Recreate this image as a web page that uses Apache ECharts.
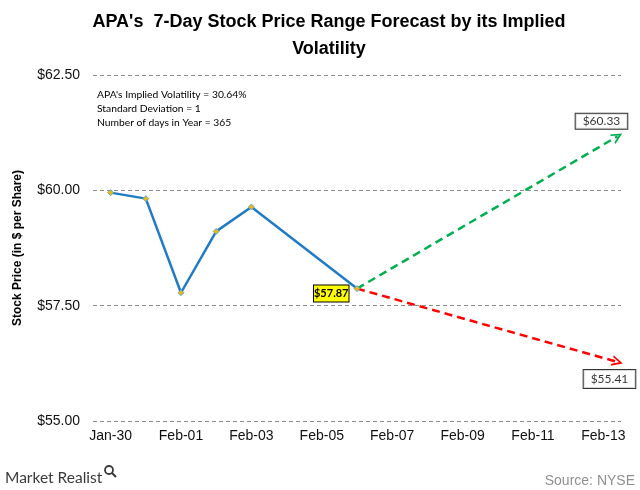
<!DOCTYPE html>
<html>
<head>
<meta charset="utf-8">
<script src="https://cdn.jsdelivr.net/npm/echarts@6/dist/echarts.min.js"></script>
<style>
html,body{margin:0;padding:0;background:#fff;}
#c{width:640px;height:490px;}
</style>
</head>
<body>
<div id="c"></div>
<script>
// ---- data ----
const xTickLabels = ["Jan-30","Feb-01","Feb-03","Feb-05","Feb-07","Feb-09","Feb-11","Feb-13"];
const xTickDays = [0,2,4,6,8,10,12,14];          // days since Jan-30
const histDays = [0,1,2,3,4,7];                   // Jan-30, Jan-31, Feb-01, Feb-02, Feb-03, Feb-06
const histPrices = [59.95,59.82,57.78,59.11,59.64,57.87];
const forecastEndDay = 14.4;
const upperDrawn = 61.17;   // where the green arrow ends on the chart
const lowerDrawn = 56.28;   // where the red arrow ends on the chart
const upperLabel = 60.33;
const lowerLabel = 55.41;
const yTicks = [55, 57.5, 60, 62.5];
const notes = ["APA's Implied Volatility = 30.64%","Standard Deviation = 1","Number of days in Year = 365"];

const lastDay = histDays[histDays.length-1];
const lastPrice = histPrices[histPrices.length-1];
const chevron = 'path://M0,10 L5,0 L10,10 L8.2,10 L5,3.6 L1.8,10 Z';

const chart = echarts.init(document.getElementById('c'), null, {renderer:'canvas'});
const option = {
  backgroundColor:'#fff',
  animation:false,
  title:{
    text:"APA's  7-Day Stock Price Range Forecast by its Implied\nVolatility",
    left:324, top:4, textAlign:'center',
    textStyle:{fontFamily:'Liberation Sans, Arial', fontWeight:'bold', fontSize:18, color:'#000', lineHeight:27}
  },
  grid:{left:93, right:19, top:75, bottom:69, containLabel:false},
  xAxis:{
    type:'value', min:-0.5, max:14.5,
    axisLine:{show:false}, axisTick:{show:false}, splitLine:{show:false},
    axisLabel:{
      customValues:xTickDays,
      formatter:(v)=>{const i=xTickDays.indexOf(v);return i>=0?xTickLabels[i]:'';},
      fontFamily:'Liberation Sans, Arial', fontSize:14, color:'#111', margin:8
    }
  },
  yAxis:{
    type:'value', min:yTicks[0], max:yTicks[yTicks.length-1], interval:2.5,
    name:'Stock Price (in $ per Share)', nameLocation:'middle', nameGap:69,
    nameTextStyle:{fontFamily:'Liberation Sans, Arial', fontWeight:'bold', fontSize:12, color:'#000'},
    axisLine:{show:false}, axisTick:{show:false},
    splitLine:{show:true, lineStyle:{color:'#8c8c8c', width:1, type:[4,3]}},
    axisLabel:{formatter:(v)=>'$'+v.toFixed(2), fontFamily:'Liberation Sans, Arial', fontSize:14, color:'#111', margin:13}
  },
  series:[
    {
      type:'line',
      data:histDays.map((d,i)=>{
        const item={value:[d,histPrices[i]]};
        if(i===histDays.length-1){
          item.label={show:true, position:'left', distance:6, offset:[1,5],
            formatter:()=>'$'+histPrices[i].toFixed(2),
            backgroundColor:'#ffff00', borderColor:'#000', borderWidth:1, padding:[3,0,2,0],
            fontFamily:'Lato', fontWeight:'bold', fontSize:11, color:'#000'};
        }
        return item;
      }),
      lineStyle:{color:'#1f7bc6', width:2.5},
      symbol:'diamond', symbolSize:6, showSymbol:true,
      itemStyle:{color:'#f2b800', borderColor:'#5aa9e0', borderWidth:1},
      z:3
    },
    {
      type:'lines', coordinateSystem:'cartesian2d', polyline:false,
      symbol:['none', chevron], symbolSize:11,
      data:[
        {coords:[[lastDay,lastPrice],[forecastEndDay,upperDrawn]], lineStyle:{color:'#00b050'}},
        {coords:[[lastDay,lastPrice],[forecastEndDay,lowerDrawn]], lineStyle:{color:'#ff0000'}}
      ],
      lineStyle:{width:2.5, type:[8,5], opacity:1},
      z:2
    },
    {
      type:'scatter', symbolSize:0,
      data:[
        {value:[forecastEndDay,upperDrawn], label:{offset:[-16,-15], padding:[2,7,1,7], formatter:()=>'$'+upperLabel.toFixed(2)}},
        {value:[forecastEndDay,lowerDrawn], label:{offset:[-8,17], padding:[3,7,3,7], formatter:()=>'$'+lowerLabel.toFixed(2)}}
      ],
      label:{show:true, position:'inside', backgroundColor:'#fff', borderColor:'#000', borderWidth:1,
        fontFamily:'Lato', fontSize:12, color:'#000'},
      z:4
    }
  ],
  graphic:[
    {type:'text', left:97, top:88, style:{text:notes.join('\n'), font:'10.3px Lato', fill:'#000', lineHeight:14}},
    {type:'text', left:5, top:470, style:{text:'Market Realist', font:'15.5px Lato', fill:'#3a3a3a'}},
    {type:'circle', shape:{cx:109, cy:470, r:4}, style:{fill:'none', stroke:'#3a3a3a', lineWidth:1.8}},
    {type:'line', shape:{x1:112, y1:473, x2:116, y2:477}, style:{stroke:'#3a3a3a', lineWidth:2.2}},
    {type:'text', right:5, top:474, style:{text:'Source: NYSE', font:'14px Liberation Sans, Arial', fill:'#8f8f8f'}}
  ]
};
chart.setOption(option);
</script>
</body>
</html>
